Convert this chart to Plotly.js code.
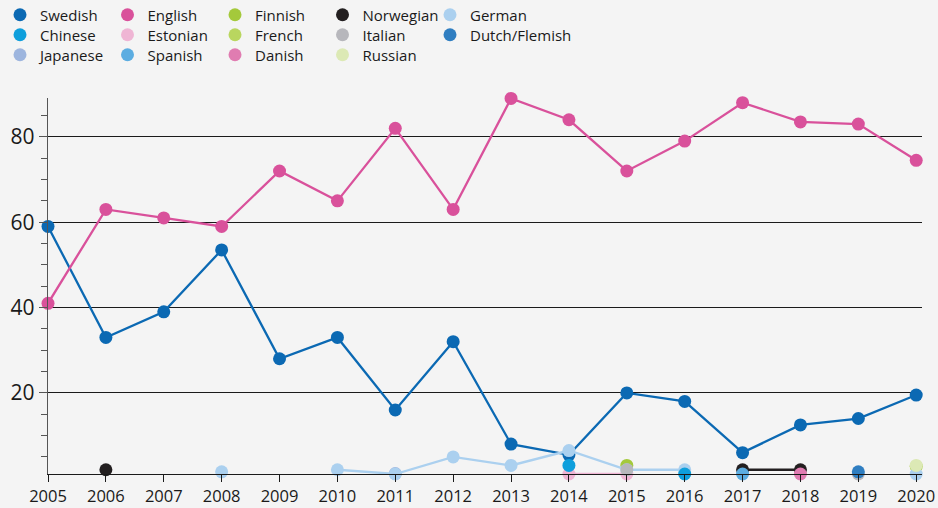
<!DOCTYPE html>
<html><head><meta charset="utf-8">
<script src="https://cdn.plot.ly/plotly-3.0.1.min.js"></script>
<style>html,body{margin:0;padding:0;background:#f4f4f4;}#chart{width:938px;height:508px;}</style>
</head><body><div id="chart"></div>
<script>
const years = [2005,2006,2007,2008,2009,2010,2011,2012,2013,2014,2015,2016,2017,2018,2019,2020];
const swedish = [59,33,39,53.5,28,33,16,32,8,5.5,20,18,6,12.5,14,19.5];
const english = [41,63,61,59,72,65,82,63,89,84,72,79,88,83.5,83,74.5];
const german  = [null,null,null,1.5,null,2,1,5,3,6.5,2,2,null,null,null,1];
const norwegian = [null,2,null,null,null,null,null,null,null,null,null,null,2,2,null,null];
const estonian = [null,null,null,null,null,null,null,null,null,1,1,null,null,null,null,null];
const chinese = [null,null,null,null,null,null,null,null,null,3,null,1,null,null,null,null];
const finnish = [null,null,null,null,null,null,null,null,null,null,3,null,null,null,null,2.8];
const italian = [null,null,null,null,null,null,null,null,null,null,2,null,null,null,1,null];
const spanish = [null,null,null,null,null,null,null,null,null,null,null,null,1,null,null,null];
const danish = [null,null,null,null,null,null,null,null,null,null,null,null,null,1,null,null];
const dutch = [null,null,null,null,null,null,null,null,null,null,null,null,null,null,1.5,null];
const japanese = [null,null,null,null,null,null,1.1,null,null,null,null,null,null,null,null,null];
const french = [null,null,null,null,null,null,null,null,null,null,null,null,null,null,null,null];
const russian = [null,null,null,null,null,null,null,null,null,null,null,null,null,null,null,3];

const colors = {
  'Swedish':'#0b69b3','English':'#d9519b','Finnish':'#a4c93b','Norwegian':'#231f20','German':'#abd0ef',
  'Chinese':'#0e9fdc','Estonian':'#efb5d4','French':'#b9d65f','Italian':'#b7b7bc','Dutch/Flemish':'#2f7ec1',
  'Japanese':'#9db5de','Spanish':'#5cade1','Danish':'#e07cb1','Russian':'#dce9b5'
};
const legendRows = [
  ['Swedish','English','Finnish','Norwegian','German'],
  ['Chinese','Estonian','French','Italian','Dutch/Flemish'],
  ['Japanese','Spanish','Danish','Russian']
];
const series = [
  ['Swedish',swedish],['English',english],['Finnish',finnish],['French',french],
  ['Estonian',estonian],['Norwegian',norwegian],['Japanese',japanese],['German',german],['Italian',italian],
  ['Danish',danish],['Dutch/Flemish',dutch],['Chinese',chinese],
  ['Spanish',spanish],['Russian',russian]
];

const traces = series.map(([name,vals]) => ({
  type:'scatter', mode:'lines+markers', name:name, x:years, y:vals,
  line:{color:colors[name], width:2.3}, marker:{color:colors[name], size:13},
  connectgaps:false, cliponaxis:false, showlegend:false, hoverinfo:'x+y+name'
}));
const legendNames = ['legend','legend2','legend3'];
legendRows.forEach((row,i) => {
  row.forEach(name => traces.push({
    type:'scatter', mode:'markers', name:name, x:[null], y:[null],
    marker:{color:colors[name], size:13}, legend:legendNames[i], showlegend:true
  }));
  // invisible spacer entry so that the last column's text is not clipped
  traces.push({type:'scatter', mode:'markers', name:' ', x:[null], y:[null],
    marker:{color:'rgba(0,0,0,0)', size:1}, legend:legendNames[i], showlegend:true});
});

const fontFam = '"Open Sans", "Noto Sans", sans-serif';
const legBase = {orientation:'h', xref:'container', yref:'container', x:0, xanchor:'left', yanchor:'middle',
  entrywidth:62.5, entrywidthmode:'pixels', bgcolor:'rgba(0,0,0,0)', font:{family:fontFam,size:15,color:'#1a1a1a'},
  itemclick:false, itemdoubleclick:false, tracegroupgap:0};

const layout = {
  width:938, height:508,
  paper_bgcolor:'#f4f4f4', plot_bgcolor:'#f4f4f4',
  margin:{l:48, r:16, t:98, b:34},
  font:{family:fontFam, color:'#1a1a1a'},
  xaxis:{range:[2005,2020.1], tickvals:years, ticktext:years.map(String), showgrid:false, zeroline:false,
    showline:true, linecolor:'#1a1a1a', linewidth:1.2, ticks:'outside', ticklen:7, tickcolor:'#1a1a1a',
    tickfont:{size:16.5, family:fontFam, color:'#1a1a1a'}, fixedrange:true},
  yaxis:{range:[1,89.1], tickvals:[20,40,60,80], showgrid:true, gridcolor:'#1a1a1a', gridwidth:1,
    zeroline:false, showline:true, linecolor:'#555', linewidth:1.2, ticks:'outside', ticklen:8, tickcolor:'#555',
    minor:{dtick:5, tick0:0, ticks:'outside', ticklen:6, tickcolor:'#555', showgrid:false},
    tickfont:{size:21, family:fontFam, color:'#1a1a1a'}, fixedrange:true},
  legend: Object.assign({}, legBase, {y:1-15/508}),
  legend2: Object.assign({}, legBase, {y:1-35/508}),
  legend3: Object.assign({}, legBase, {y:1-55/508}),
  showlegend:true
};
Plotly.newPlot('chart', traces, layout, {displayModeBar:false, staticPlot:true});
</script></body></html>
